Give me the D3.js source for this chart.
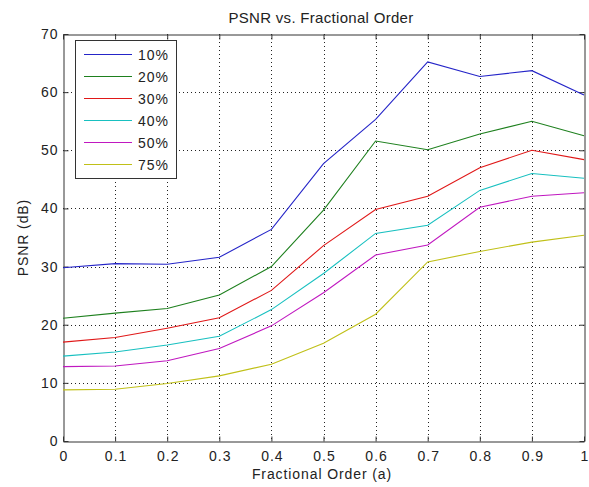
<!DOCTYPE html>
<html>
<head>
<meta charset="utf-8">
<script src="https://cdn.jsdelivr.net/npm/d3@7"></script>
<style>
  body { margin: 0; background: #fff; }
  svg text { font-family: "Liberation Sans", Arial, sans-serif; fill: #222; }
</style>
</head>
<body>
<svg id="chart" width="589" height="487"></svg>
<script>
// Fractional order a (x axis)
const orders = [0, 0.1, 0.2, 0.3, 0.4, 0.5, 0.6, 0.7, 0.8, 0.9, 1.0];

// PSNR (dB) for each noise level
const psnr10 = [29.8, 30.5, 30.4, 31.6, 36.4, 47.7, 55.3, 65.2, 62.7, 63.7, 59.5];
const psnr20 = [21.1, 22.0, 22.8, 25.1, 30.0, 39.7, 51.6, 50.1, 52.8, 55.0, 52.5];
const psnr30 = [17.0, 17.8, 19.4, 21.2, 25.9, 33.6, 39.8, 42.1, 47.0, 50.0, 48.4];
const psnr40 = [14.6, 15.3, 16.5, 18.0, 22.6, 28.8, 35.7, 37.1, 43.1, 46.0, 45.2];
const psnr50 = [12.8, 12.9, 13.8, 15.9, 19.8, 25.5, 32.0, 33.7, 40.2, 42.1, 42.7];
const psnr75 = [8.8, 8.9, 9.9, 11.2, 13.2, 16.8, 21.8, 30.8, 32.6, 34.2, 35.4];

const seriesNames = ["10%", "20%", "30%", "40%", "50%", "75%"];
const seriesValues = [psnr10, psnr20, psnr30, psnr40, psnr50, psnr75];
const seriesColors = ["#2525c8", "#1e801e", "#e01818", "#18c0c0", "#c018c0", "#c0c018"];

const xTicks = [0, 0.1, 0.2, 0.3, 0.4, 0.5, 0.6, 0.7, 0.8, 0.9, 1];
const yTicks = [0, 10, 20, 30, 40, 50, 60, 70];

const svg = d3.select("#chart");
const plotL = 63, plotR = 584, plotT = 34, plotB = 441;

const x = d3.scaleLinear().domain([0, 1]).range([plotL, plotR]);
const y = d3.scaleLinear().domain([0, 70]).range([plotB, plotT]);

// Dotted grid
const grid = svg.append("g")
  .attr("stroke", "#222").attr("stroke-width", 1)
  .attr("stroke-dasharray", "1,3");
grid.selectAll("line.gx").data(xTicks.slice(1, -1)).join("line").attr("class", "gx")
  .attr("x1", d => Math.round(x(d)) + 0.5).attr("x2", d => Math.round(x(d)) + 0.5)
  .attr("y1", plotT).attr("y2", plotB);
grid.selectAll("line.gy").data(yTicks.slice(1, -1)).join("line").attr("class", "gy")
  .attr("y1", d => Math.round(y(d)) + 0.5).attr("y2", d => Math.round(y(d)) + 0.5)
  .attr("x1", plotL).attr("x2", plotR);

// Axes with inward ticks on all four sides
const fmtX = d => d === 0 ? "0" : d === 1 ? "1" : d3.format(".1f")(d);
const axB = svg.append("g").attr("transform", `translate(0,${plotB + 0.5})`)
  .call(d3.axisBottom(x).tickValues(xTicks).tickFormat(fmtX).tickSizeInner(-5).tickSizeOuter(0).tickPadding(10));
const axT = svg.append("g").attr("transform", `translate(0,${plotT + 0.5})`)
  .call(d3.axisTop(x).tickValues(xTicks).tickFormat("").tickSizeInner(-5).tickSizeOuter(0));
const axL = svg.append("g").attr("transform", `translate(${plotL + 0.5},0)`)
  .call(d3.axisLeft(y).tickValues(yTicks).tickSizeInner(-5).tickSizeOuter(0).tickPadding(5));
const axR = svg.append("g").attr("transform", `translate(${plotR + 0.5},0)`)
  .call(d3.axisRight(y).tickValues(yTicks).tickFormat("").tickSizeInner(-5).tickSizeOuter(0));
[axB, axT, axL, axR].forEach(g => {
  g.selectAll("path, line").attr("stroke", "#333");
  g.selectAll("text").attr("font-size", 14).attr("fill", "#222").attr("letter-spacing", 1)
    .attr("font-family", "Liberation Sans, Arial, sans-serif");
});
axB.selectAll("text").attr("dx", "0.5");

// Data lines
const line = d3.line().x((d, i) => x(orders[i])).y(d => y(d));
svg.append("g").selectAll("path").data(seriesValues).join("path")
  .attr("d", line).attr("fill", "none")
  .attr("stroke", (d, i) => seriesColors[i]).attr("stroke-width", 1.1);

// Legend
const lg = svg.append("g");
lg.append("rect").attr("x", 75.5).attr("y", 40.5).attr("width", 101).attr("height", 138)
  .attr("fill", "#fff").attr("stroke", "#333");
seriesNames.forEach((name, i) => {
  const yy = 54 + i * 22;
  lg.append("line").attr("x1", 84).attr("x2", 132).attr("y1", yy + 0.5).attr("y2", yy + 0.5)
    .attr("stroke", seriesColors[i]).attr("stroke-width", 1.1);
  lg.append("text").attr("x", 138).attr("y", yy + 6).attr("font-size", 14)
    .attr("letter-spacing", 1).text(name);
});

// Titles
svg.append("text").attr("x", 321).attr("y", 23)
  .attr("text-anchor", "middle").attr("font-size", 15).attr("letter-spacing", 0.3)
  .text("PSNR vs. Fractional Order");
svg.append("text").attr("x", 322).attr("y", 479)
  .attr("text-anchor", "middle").attr("font-size", 14).attr("letter-spacing", 0.9)
  .text("Fractional Order (a)");
svg.append("text").attr("transform", `translate(28,${(plotT + plotB) / 2}) rotate(-90)`)
  .attr("text-anchor", "middle").attr("font-size", 14).attr("letter-spacing", 0.9)
  .text("PSNR (dB)");
</script>
</body>
</html>
